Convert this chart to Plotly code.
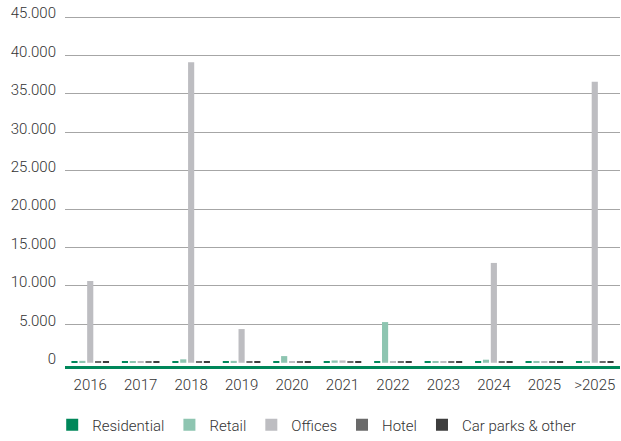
import plotly.graph_objects as go

categories = ["2016", "2017", "2018", "2019", "2020", "2021", "2022", "2023", "2024", "2025", ">2025"]
residential = [150, 180, 150, 150, 150, 180, 150, 150, 150, 150, 150]
retail = [250, 200, 450, 250, 870, 300, 5300, 200, 400, 200, 200]
offices = [10650, 150, 39130, 4390, 150, 300, 150, 200, 13000, 200, 36600]
hotel = [200, 200, 200, 200, 200, 200, 200, 200, 200, 200, 200]
car_parks = [200, 200, 200, 200, 200, 200, 200, 200, 200, 200, 200]

series = [
    ("Residential", residential, "#00875a"),
    ("Retail", retail, "#8ec5b1"),
    ("Offices", offices, "#bdbdc1"),
    ("Hotel", hotel, "#6a6a6a"),
    ("Car parks & other", car_parks, "#3d3d3d"),
]

fig = go.Figure()
for name, vals, color in series:
    fig.add_trace(go.Bar(name=name, x=categories, y=vals, marker_color=color,
                         marker_line_width=0))

font_family = "Roboto, Arial, sans-serif"
fig.update_layout(
    width=621, height=441,
    margin=dict(l=65, r=1, t=15, b=75),
    paper_bgcolor="white", plot_bgcolor="white",
    barmode="group", bargap=0.22, bargroupgap=0.22,
    separators=",.",
    font=dict(family=font_family, size=15, color="#333333", weight=300),
    showlegend=True,
    legend=dict(orientation="h", xref="container", yref="container",
                x=0.51, xanchor="center", y=0.036, yanchor="middle",
                font=dict(size=15, color="#333333", weight=300), itemclick=False),
)
fig.update_yaxes(
    range=[-420, 45280],
    tickvals=[0, 5000, 10000, 15000, 20000, 25000, 30000, 35000, 40000, 45000],
    tickformat=",d",
    showgrid=True, gridcolor="#a6a6a6", gridwidth=1,
    zeroline=True, zerolinecolor="rgba(0,0,0,0)",
    ticks="", ticklabelstandoff=8, ticklabelshift=-4,
    tickfont=dict(size=15, color="#333333", weight=300),
    showline=False,
)
fig.update_xaxes(
    showline=True, linecolor="#00875a", linewidth=3,
    ticks="", tickfont=dict(size=15, color="#333333", weight=300),
    ticklabelstandoff=3,
)
fig.write_html("out.html")
